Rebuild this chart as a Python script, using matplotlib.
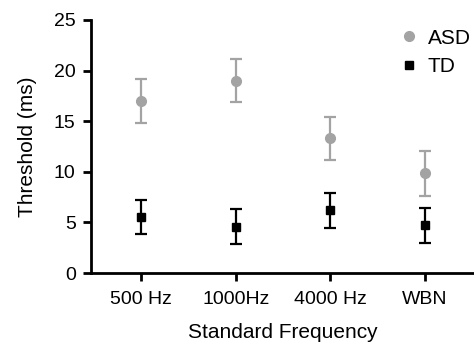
import matplotlib
matplotlib.use("Agg")
import matplotlib.pyplot as plt
from matplotlib.lines import Line2D

plt.rcParams['font.family'] = ['Liberation Sans', 'DejaVu Sans']

categorias = ["500 Hz", "1000Hz", "4000 Hz", "WBN"]
asd_media = [17.0, 19.0, 13.3, 9.85]
asd_erro = [2.15, 2.15, 2.15, 2.25]
td_media = [5.53, 4.6, 6.2, 4.75]
td_erro = [1.7, 1.7, 1.72, 1.73]

cinza = '#a3a3a3'
x = list(range(len(categorias)))

fig = plt.figure(figsize=(4.74, 3.44), dpi=100)
ax = fig.add_axes([0.192, 0.206, 0.808, 0.736])

ax.errorbar(x, asd_media, yerr=asd_erro, fmt='o', color=cinza, ecolor=cinza,
            markersize=7, elinewidth=1.6, capsize=4, capthick=1.6)
ax.errorbar(x, td_media, yerr=td_erro, fmt='s', color='black', ecolor='black',
            markersize=6, elinewidth=1.6, capsize=4, capthick=1.6)

ax.set_xlim(-0.53, 3.52)
ax.set_ylim(0, 25)
ax.set_yticks([0, 5, 10, 15, 20, 25])
ax.set_xticks(x)
ax.set_xticklabels(categorias)

for s in ['top', 'right']:
    ax.spines[s].set_visible(False)
for s in ['left', 'bottom']:
    ax.spines[s].set_linewidth(2)

ax.tick_params(axis='both', width=2, length=6, labelsize=14, colors='black')
ax.tick_params(axis='x', pad=7)
ax.tick_params(axis='y', pad=5)

ax.set_xlabel("Standard Frequency", fontsize=15, labelpad=11)
ax.set_ylabel("Threshold (ms)", fontsize=15, labelpad=12)

handles = [Line2D([], [], ls='none', marker='o', color=cinza, markersize=7),
           Line2D([], [], ls='none', marker='s', color='black', markersize=6)]
ax.legend(handles, ['ASD', 'TD'], loc='upper right', frameon=False, fontsize=15,
          handletextpad=0.3, handlelength=1.2, labelspacing=0.45,
          bbox_to_anchor=(1.04, 1.04))

fig.savefig("out.png", dpi=100)
